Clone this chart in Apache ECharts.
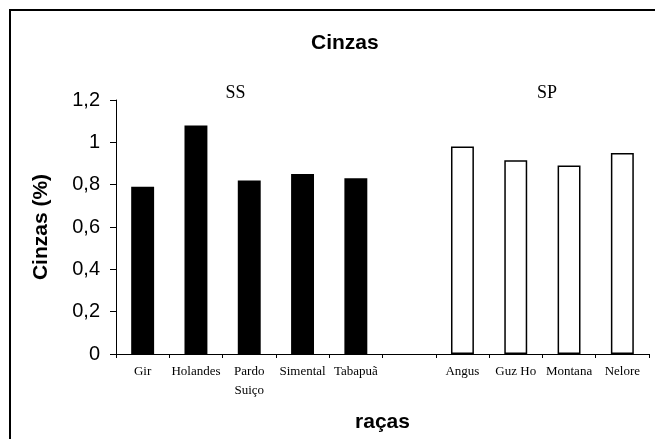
<!DOCTYPE html>
<html><head><meta charset="utf-8">
<script src="https://cdn.jsdelivr.net/npm/echarts@6/dist/echarts.min.js"></script>
<style>html,body{margin:0;padding:0;background:#fff}#c{width:655px;height:439px}</style>
</head><body><div id="c"></div>
<script>
var categories = ['Gir', 'Holandes', 'Pardo\nSuiço', 'Simental', 'Tabapuã', '', 'Angus', 'Guz Ho', 'Montana', 'Nelore'];
var ssValues = [0.79, 1.08, 0.82, 0.85, 0.83, '-', '-', '-', '-', '-'];
var spValues = ['-', '-', '-', '-', '-', '-', 0.98, 0.915, 0.89, 0.95];
var yTicks = [0, 0.2, 0.4, 0.6, 0.8, 1, 1.2];

var chart = echarts.init(document.getElementById('c'), null, {renderer: 'canvas'});
chart.setOption({
  animation: false,
  backgroundColor: '#fff',
  title: {
    text: 'Cinzas', left: 306, top: 28,
    textStyle: {fontFamily: 'Liberation Sans', fontSize: 21, fontWeight: 'bold', color: '#000'}
  },
  graphic: [
    {type: 'rect', shape: {x: 10, y: 10, width: 700, height: 500}, style: {fill: 'none', stroke: '#000', lineWidth: 2}, z: 100},
    {type: 'text', x: 235.5, y: 93, style: {text: 'SS', font: 'normal 18px "Liberation Serif"', fill: '#000', align: 'center', verticalAlign: 'middle'}},
    {type: 'text', x: 547, y: 93, style: {text: 'SP', font: 'normal 18px "Liberation Serif"', fill: '#000', align: 'center', verticalAlign: 'middle'}}
  ],
  grid: {left: 116, right: 6, top: 100, bottom: 85, containLabel: false},
  xAxis: {
    type: 'category', data: categories,
    boundaryGap: true,
    name: 'raças', nameLocation: 'middle', nameGap: 58,
    nameTextStyle: {fontFamily: 'Liberation Sans', fontSize: 21, fontWeight: 'bold', color: '#000'},
    axisLine: {lineStyle: {color: '#000', width: 1}},
    axisTick: {show: true, alignWithLabel: false, inside: false, length: 4, lineStyle: {color: '#000'}},
    axisLabel: {interval: 0, hideOverlap: false, margin: 8, fontFamily: 'Liberation Serif', fontSize: 13, color: '#000', lineHeight: 19}
  },
  yAxis: {
    type: 'value', min: 0, max: 1.2, interval: 0.2,
    name: 'Cinzas (%)', nameLocation: 'middle', nameGap: 64,
    nameTextStyle: {fontFamily: 'Liberation Sans', fontSize: 21, fontWeight: 'bold', color: '#000'},
    axisLine: {show: true, lineStyle: {color: '#000', width: 1}},
    axisTick: {show: true, length: 6, lineStyle: {color: '#000'}},
    splitLine: {show: false},
    axisLabel: {
      margin: 16, fontFamily: 'Liberation Sans', fontSize: 20, color: '#000',
      formatter: function (v) {
        var t = yTicks.find(function (k) { return Math.abs(k - v) < 1e-9; });
        return String(t !== undefined ? t : v).replace('.', ',');
      }
    }
  },
  series: [
    {name: 'SS', type: 'bar', data: ssValues, barGap: '-100%', barCategoryGap: '57%',
     itemStyle: {color: '#000'}},
    {name: 'SP', type: 'bar', data: spValues, barGap: '-100%', barCategoryGap: '57%',
     itemStyle: {color: '#fff', borderColor: '#000', borderWidth: 1.5}}
  ]
});
</script></body></html>
